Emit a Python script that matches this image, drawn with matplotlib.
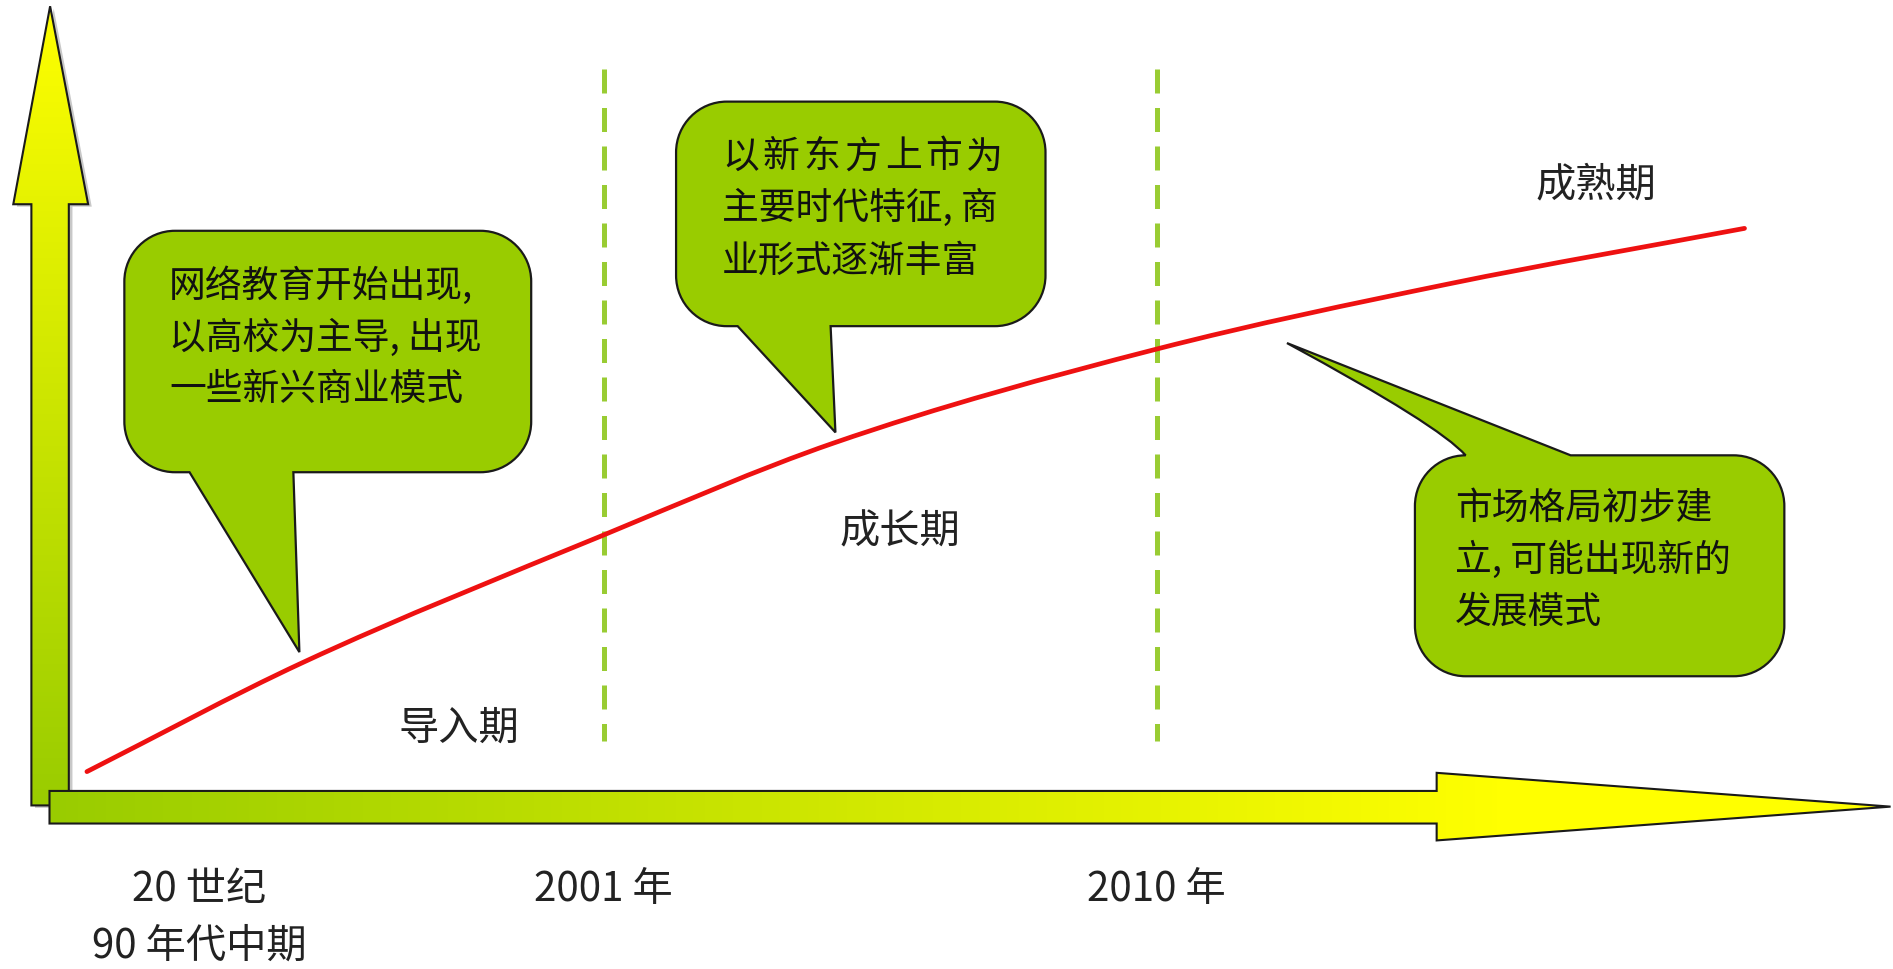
import numpy as np
import matplotlib.pyplot as plt
from matplotlib.path import Path
from matplotlib.patches import PathPatch, Polygon

plt.rcParams['font.family'] = ['Noto Sans CJK SC', 'DejaVu Sans']

# Everything is laid out in picture pixels (1568 x 803.5, y pointing down).
W, H = 1568, 803.5

# Red growth curve.
curve_x = [72, 250, 500, 690, 958, 1200, 1445]
curve_y = [640, 550, 444, 368, 290, 236, 190]

# Stage names and where they sit.
stage_names = ['导入期', '成长期', '成熟期']
stage_x = [380, 745, 1322]
stage_y = [603, 441, 153]

# Time labels under the horizontal arrow, and the dashed boundaries.
time_labels = [['20 世纪', '90 年代中期'], ['2001 年'], ['2010 年']]
time_x = [165, 500, 958]
boundary_x = [500, 958]

# Callout texts (one list of lines per bubble).
callout_lines = [
    ['网络教育开始出现,', '以高校为主导, 出现', '一些新兴商业模式'],
    ['以新东方上市为', '主要时代特征, 商', '业形式逐渐丰富'],
    ['市场格局初步建', '立, 可能出现新的', '发展模式'],
]

# Bubble geometry: box (x0, y0, x1, y1), tail side, tail base a/b, tail tip.
bubbles = [
    dict(box=(103, 192, 440, 392), side='bottom', base=(157, 243), tip=(248, 541)),
    dict(box=(560, 85, 866, 271), side='bottom', base=(611, 688), tip=(692, 359)),
    dict(box=(1172, 378, 1478, 561), side='top', base=(1222, 1301), tip=(1066, 285)),
]
text_x = [140, 598, 1205]
text_y0 = [237, 130, 421]
line_gap = 43

GREEN = '#99CC00'
YELLOW = '#FFFF00'


def bubble_path(box, side, base, tip, r=42):
    x0, y0, x1, y1 = box
    k = 0.5523 * r
    verts, codes = [], []

    def mv(p):
        verts.append(p)
        codes.append(Path.MOVETO)

    def ln(p):
        verts.append(p)
        codes.append(Path.LINETO)

    def cv(c1, c2, p):
        verts.extend([c1, c2, p])
        codes.extend([Path.CURVE4] * 3)

    mv((x0 + r, y0))
    if side == 'top':
        # lower edge of the tail bends a little, like the original shape
        ctrl = (base[0] - 30, y0 - 25)
        verts.extend([ctrl, tip])
        codes.extend([Path.CURVE3] * 2)
        ln((base[1], y0))
    ln((x1 - r, y0))
    cv((x1 - r + k, y0), (x1, y0 + r - k), (x1, y0 + r))
    ln((x1, y1 - r))
    cv((x1, y1 - r + k), (x1 - r + k, y1), (x1 - r, y1))
    if side == 'bottom':
        ln((base[1], y1))
        ln(tip)
        ln((base[0], y1))
    ln((x0 + r, y1))
    cv((x0 + r - k, y1), (x0, y1 - r + k), (x0, y1 - r))
    ln((x0, y0 + r))
    cv((x0, y0 + r - k), (x0 + r - k, y0), (x0 + r, y0))
    verts.append((x0 + r, y0))
    codes.append(Path.CLOSEPOLY)
    return Path(verts, codes)


def smooth_path(xs, ys):
    # cubic Hermite through the read points, drawn as Bezier segments
    x = np.asarray(xs, float)
    y = np.asarray(ys, float)
    sec = np.diff(y) / np.diff(x)
    m = np.empty_like(x)
    m[0], m[-1] = sec[0], sec[-1]
    m[1:-1] = (sec[:-1] + sec[1:]) / 2.0
    verts = [(x[0], y[0])]
    codes = [Path.MOVETO]
    for i in range(len(x) - 1):
        dx = x[i + 1] - x[i]
        verts += [(x[i] + dx / 3, y[i] + m[i] * dx / 3),
                  (x[i + 1] - dx / 3, y[i + 1] - m[i + 1] * dx / 3),
                  (x[i + 1], y[i + 1])]
        codes += [Path.CURVE4] * 3
    return Path(verts, codes)


def gradient(c_from, c_to, n=256):
    a = np.array(plt.matplotlib.colors.to_rgb(c_from))
    b = np.array(plt.matplotlib.colors.to_rgb(c_to))
    t = np.linspace(0, 1, n)[:, None]
    return a + (b - a) * t


fig = plt.figure(figsize=(18.93, 9.70), dpi=100)
ax = fig.add_axes([0, 0, 1, 1])
ax.set_axis_off()

# Vertical arrow (yellow at the top, green at the bottom).
v_arrow = [(26, 668), (26, 170), (11, 170), (41.5, 6), (73, 170),
           (57, 170), (57, 668)]
shadow = Polygon([(x + 3, y + 2) for x, y in v_arrow], closed=True,
                 facecolor='#c8c8c8', edgecolor='none', zorder=1)
ax.add_patch(shadow)
v_patch = Polygon(v_arrow, closed=True, facecolor='none',
                  edgecolor='#1a1a1a', linewidth=1.5, zorder=3)
ax.add_patch(v_patch)
v_img = ax.imshow(gradient(YELLOW, GREEN)[:, None, :], extent=(11, 73, 668, 6),
                  origin='upper', aspect='auto', zorder=2)
v_img.set_clip_path(v_patch)

# Horizontal arrow (green at the left, yellow towards the head).
h_arrow = [(41, 656), (1190, 656), (1190, 641), (1566, 669), (1190, 697),
           (1190, 683), (41, 683)]
h_patch = Polygon(h_arrow, closed=True, facecolor='none',
                  edgecolor='#1a1a1a', linewidth=1.5, zorder=5)
ax.add_patch(h_patch)
h_img = ax.imshow(gradient(GREEN, YELLOW)[None, :, :], extent=(41, 1250, 697, 641),
                  origin='upper', aspect='auto', zorder=4)
h_img.set_clip_path(h_patch)
ax.add_patch(Polygon([(1240, 641), (1566, 641), (1566, 697), (1240, 697)],
                     closed=True, facecolor=YELLOW, edgecolor='none',
                     zorder=4, clip_path=h_patch))

# Dashed stage boundaries.
for bx in boundary_x:
    ax.plot([bx, bx], [58, 615], color='#99CC33', linewidth=3.6,
            dashes=(4.8, 2.9), solid_capstyle='butt', zorder=2)

# Growth curve.
ax.add_patch(PathPatch(smooth_path(curve_x, curve_y), facecolor='none',
                       edgecolor='#EE1111', linewidth=3.4, capstyle='round',
                       zorder=6))

# Speech bubbles.
for i, b in enumerate(bubbles):
    ax.add_patch(PathPatch(bubble_path(**b), facecolor=GREEN,
                           edgecolor='#1a1a1a', linewidth=1.6, zorder=7))
    for j, line in enumerate(callout_lines[i]):
        y = text_y0[i] + j * line_gap
        if i == 1 and j == 0:
            step = 33.7
            for m, ch in enumerate(line):
                ax.text(text_x[i] + m * step, y, ch, fontsize=26.5,
                        fontweight='medium', color='#111111', ha='left',
                        va='center', zorder=8)
        else:
            ax.text(text_x[i], y, line, fontsize=26.5, fontweight='medium',
                    color='#111111', ha='left', va='center', zorder=8)

# Stage names.
for name, sx, sy in zip(stage_names, stage_x, stage_y):
    ax.text(sx, sy, name, fontsize=29, color='#222222', ha='center',
            va='center', zorder=8)

# Time labels.
for lines, tx in zip(time_labels, time_x):
    for j, line in enumerate(lines):
        ax.text(tx, 737 + j * 47, line, fontsize=29, color='#222222',
                ha='center', va='center', zorder=8)

ax.set_xlim(0, W)
ax.set_ylim(H, 0)

fig.savefig('out.png', dpi=100, facecolor='white')
